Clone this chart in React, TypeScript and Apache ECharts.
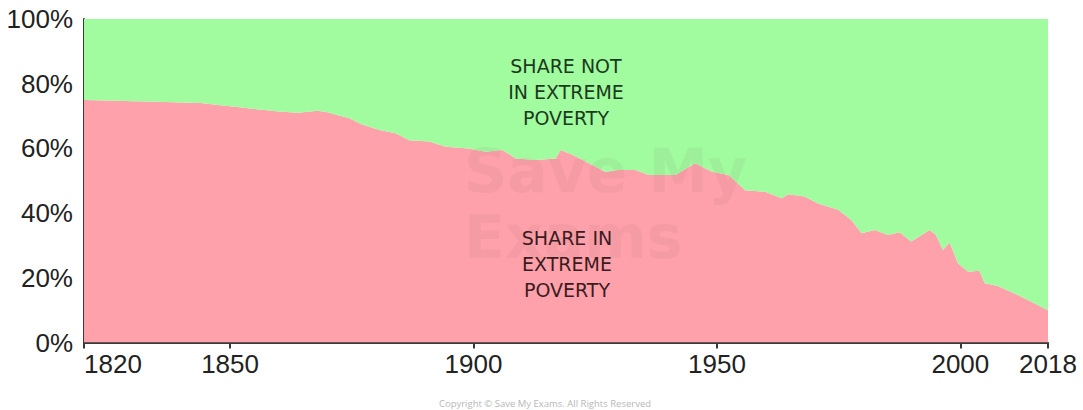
import React, { useEffect, useRef } from "react";
import * as echarts from "echarts";

const years = [
  1820, 1825, 1830, 1835, 1840, 1844, 1848, 1852, 1856, 1860, 1864, 1868, 1870, 1872,
  1874.5, 1877, 1880.7, 1884, 1886.8, 1890.9, 1894.3, 1899, 1902.5, 1905.9, 1908.7,
  1912.8, 1916.9, 1917.9, 1920.3, 1923.7, 1927.1, 1929.8, 1933.3, 1936, 1941.5,
  1945.5, 1949, 1952.4, 1955.8, 1959.9, 1963.3, 1964.7, 1968, 1970.8, 1974.9,
  1977.6, 1979.7, 1982.4, 1985.2, 1987.5, 1989.9, 1993.7, 1995, 1996.4, 1997.8,
  1999.5, 2001.6, 2003.9, 2005, 2007.7, 2011.8, 2018,
];
const inPoverty = [
  75.0, 74.8, 74.6, 74.4, 74.2, 74.0, 73.3, 72.7, 72.0, 71.4, 71.0, 71.6, 71.2, 70.3,
  69.3, 67.5, 65.7, 64.7, 62.5, 62.1, 60.5, 60.0, 59.0, 59.5, 56.9,
  56.4, 56.9, 59.5, 58.0, 55.4, 52.8, 53.3, 53.3, 51.8, 51.8,
  55.4, 52.8, 51.8, 47.1, 46.6, 44.6, 45.8, 45.1, 43.0, 41.0,
  37.9, 33.8, 34.8, 33.2, 34.1, 31.2, 34.8, 33.2, 28.6, 30.9,
  24.5, 21.9, 22.2, 18.3, 17.5, 14.7, 10.0,
];
const xTicks = [1820, 1850, 1900, 1950, 2000, 2018];
const yTicks = [0, 20, 40, 60, 80, 100];

const PINK = "#FEA1AB";
const GREEN = "#A1FB9F";
const FONT = "Liberation Sans";

export default function App() {
  const ref = useRef<HTMLDivElement>(null);
  useEffect(() => {
    document.body.style.margin = "0";
    const chart = echarts.init(ref.current!, null, { renderer: "svg" });
    const pts = years.map((y, i) => [y, inPoverty[i]]);
    chart.setOption({
      animation: false,
      backgroundColor: "#ffffff",
      grid: { left: 84, right: 35, top: 19, bottom: 67.5, containLabel: false },
      xAxis: {
        type: "value",
        min: 1820,
        max: 2018,
        axisLine: { show: true, lineStyle: { color: "#3a3a3a", width: 2 } },
        axisTick: {
          show: true,
          customValues: xTicks,
          length: 6,
          lineStyle: { color: "#3a3a3a", width: 2 },
        },
        axisLabel: {
          customValues: xTicks,
          formatter: (v: number) => String(v),
          color: "#222",
          fontFamily: FONT,
          fontSize: 26,
          margin: 8,
          alignMinLabel: "left",
          showMinLabel: true,
          showMaxLabel: true,
        },
        splitLine: { show: false },
      },
      yAxis: {
        type: "value",
        min: 0,
        max: 100,
        interval: 20,
        axisLine: { show: true, lineStyle: { color: "#3a3a3a", width: 2 } },
        axisTick: { show: false },
        axisLabel: {
          customValues: yTicks,
          formatter: "{value}%",
          color: "#222",
          fontFamily: FONT,
          fontSize: 26,
          margin: 11,
        },
        splitLine: { show: false },
      },
      series: [
        {
          name: "Share in extreme poverty",
          type: "line",
          data: pts,
          symbol: "none",
          lineStyle: { width: 0 },
          areaStyle: { color: PINK, opacity: 1, origin: "start" },
          z: 2,
        },
        {
          name: "Share not in extreme poverty",
          type: "line",
          data: pts,
          symbol: "none",
          lineStyle: { width: 0 },
          areaStyle: { color: GREEN, opacity: 1, origin: "end" },
          z: 2,
        },
      ],
      graphic: [
        {
          type: "text",
          left: 464,
          top: 138,
          z: 5,
          silent: true,
          style: {
            text: "Save My\nExams",
            fontFamily: "DejaVu Sans",
            fontWeight: "bold",
            fontSize: 60,
            lineHeight: 66,
            fill: "rgba(120,80,90,0.07)",
          },
        },
        {
          type: "text",
          x: 566,
          y: 92,
          z: 10,
          style: {
            text: "SHARE NOT\nIN EXTREME\nPOVERTY",
            align: "center",
            verticalAlign: "middle",
            fontFamily: "DejaVu Sans",
            fontSize: 19,
            lineHeight: 26,
            fill: "#1c3a1c",
          },
        },
        {
          type: "text",
          x: 567,
          y: 264,
          z: 10,
          style: {
            text: "SHARE IN\nEXTREME\nPOVERTY",
            align: "center",
            verticalAlign: "middle",
            fontFamily: "DejaVu Sans",
            fontSize: 19,
            lineHeight: 26,
            fill: "#3a1c20",
          },
        },
        {
          type: "text",
          x: 545,
          y: 403,
          z: 10,
          style: {
            text: "Copyright © Save My Exams. All Rights Reserved",
            align: "center",
            verticalAlign: "middle",
            fontFamily: "Open Sans",
            fontSize: 9.5,
            fill: "#b8b8b8",
          },
        },
      ],
    });
    return () => chart.dispose();
  }, []);
  return (
    <div
      ref={ref}
      style={{ position: "absolute", left: 0, top: 0, width: 1083, height: 410 }}
    />
  );
}
